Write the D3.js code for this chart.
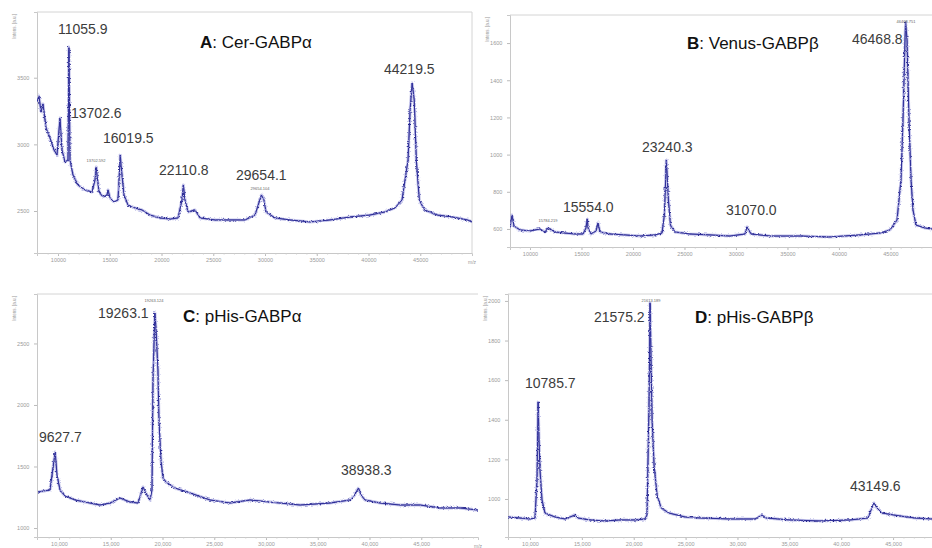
<!DOCTYPE html>
<html>
<head>
<meta charset="utf-8">
<script src="https://cdn.jsdelivr.net/npm/d3@7/dist/d3.min.js"></script>
<style>
  body { margin: 0; background: #fff; }
  svg { display: block; }
  text { font-family: "Liberation Sans", Arial, sans-serif; }
</style>
</head>
<body>
<svg id="chart" width="932" height="548"></svg>
<script>
// ---- spectra, [m/z, intensity] ----
const specA = [[7971,3318],[8164,3363],[8357,3243],[8551,3303],[8841,3123],[9227,3048],[9614,2958],[9903,2920],
  [10193,3198],[10386,2958],[10676,2868],[10966,2883],[11056,3730],[11159,2883],[11449,2770],[11932,2695],
  [12609,2658],[13285,2643],[13575,2733],[13703,2830],[13768,2770],[13961,2643],[14348,2605],[14734,2620],
  [14831,2658],[15024,2598],[15411,2568],[15797,2583],[16020,2920],[16087,2845],[16377,2620],[16763,2545],
  [17440,2523],[18116,2508],[18889,2470],[19855,2448],[20821,2440],[21594,2448],[21981,2583],[22111,2695],
  [22271,2583],[22561,2493],[23237,2508],[23720,2448],[25169,2433],[26619,2433],[28068,2433],[29034,2470],
  [29654,2620],[29900,2583],[30097,2493],[30967,2448],[32416,2433],[34348,2418],[36281,2433],[38213,2455],
  [40145,2470],[41595,2493],[42561,2523],[43237,2583],[43820,2883],[44020,3258],[44219,3460],[44420,3333],
  [44620,2883],[44910,2583],[45400,2508],[46650,2470],[48100,2455],[49560,2433],[50000,2418]];

const specB = [[8058,605],[8252,675],[8446,616],[9029,595],[10000,589],[10971,600],[11457,584],[11748,605],
  [12428,584],[13399,578],[14370,573],[15146,573],[15438,605],[15554,654],[15640,605],[15923,573],
  [16409,589],[16603,632],[16797,584],[17768,573],[19225,568],[20681,562],[22138,568],[22817,578],
  [23050,675],[23240,971],[23440,756],[23640,621],[24080,584],[25536,573],[27478,568],[29420,562],
  [30877,573],[31070,611],[31460,573],[33304,562],[36217,562],[39130,557],[42043,568],[43985,578],
  [44956,595],[45636,648],[46024,864],[46218,1186],[46413,1617],[46469,1714],[46610,1617],[46800,1186],
  [47000,864],[47190,702],[47480,621],[48355,605],[49034,600]];

const specC = [[7971,1293],[9130,1309],[9628,1618],[9807,1431],[10097,1309],[10580,1260],[11546,1228],
  [12995,1203],[13961,1187],[14928,1203],[15894,1244],[16860,1211],[17633,1203],[18116,1333],[18502,1268],
  [18792,1228],[18986,1309],[19082,2203],[19263,2748],[19380,2610],[19470,2447],[19560,2285],[19660,1878],
  [19850,1553],[20050,1406],[20340,1374],[21208,1325],[22657,1285],[24590,1228],[26522,1203],[28454,1228],
  [30387,1211],[33285,1187],[36184,1203],[38116,1228],[38503,1260],[38938,1325],[39180,1268],[39566,1228],
  [41015,1203],[42947,1187],[44879,1187],[46812,1163],[48744,1163],[50484,1146]];

const specD = [[7879,909],[9036,904],[10000,899],[10482,904],[10675,1096],[10786,1490],[10868,1298],
  [10964,1146],[11157,995],[11446,929],[12410,909],[13374,899],[14338,919],[14627,904],[15784,894],
  [17230,889],[18676,894],[20122,894],[21086,899],[21280,919],[21480,1500],[21575,1990],[21670,1702],
  [21770,1399],[21960,1172],[22250,1020],[22640,955],[23400,929],[24942,909],[26388,904],[29280,899],
  [31690,899],[32365,919],[32750,904],[35064,894],[37956,889],[40848,894],[42583,904],[42873,944],
  [43150,980],[43450,955],[43933,929],[45668,914],[47114,904],[48753,899]];

// ---- axis ticks ----
const xTicks = [10000, 15000, 20000, 25000, 30000, 35000, 40000, 45000];
const yTicksA = [2500, 3000, 3500];
const yTicksB = [600, 800, 1000, 1200, 1400, 1600];
const yTicksC = [1000, 1500, 2000, 2500];
const yTicksD = [1000, 1200, 1400, 1600, 1800, 2000];

// ---- titles and peak labels ----
const titles = [["A", ": Cer-GABPα"], ["B", ": Venus-GABPβ"], ["C", ": pHis-GABPα"], ["D", ": pHis-GABPβ"]];
const peaksA = ["11055.9", "13702.6", "16019.5", "22110.8", "29654.1", "44219.5"];
const peaksB = ["23240.3", "15554.0", "31070.0", "46468.8"];
const peaksC = ["9627.7", "19263.1", "38938.3"];
const peaksD = ["10785.7", "21575.2", "43149.6"];
const smallA = ["13702.592", "29654.104"];
const smallB = ["15784.219", "46468.751"];
const smallC = ["19263.124"];
const smallD = ["21613.189"];

// ---- layout (pixels) ----
const panels = [
  { spec: specA, yTicks: yTicksA, title: titles[0], peaks: peaksA, small: smallA, comma: false,
    box: { l: 37, t: 12, r: 472, b: 253 }, xDom: [7971, 50000], yDom: [2185, 3993], rightEdge: true,
    titlePos: [200, 48],
    peakPos: [[58, 34], [71, 118], [103, 143], [159, 175], [236, 180], [384, 74]],
    smallPos: [[96, 162], [260, 190]] },
  { spec: specB, yTicks: yTicksB, title: titles[1], peaks: peaksB, small: smallB, comma: false,
    box: { l: 510, t: 15, r: 932, b: 247 }, xDom: [8058, 49034], yDom: [503, 1751], rightEdge: false,
    titlePos: [687, 49],
    peakPos: [[642, 152], [563, 212], [726, 215], [852, 44]],
    smallPos: [[548, 222], [906, 23]] },
  { spec: specC, yTicks: yTicksC, title: titles[2], peaks: peaksC, small: smallC, comma: true,
    box: { l: 37, t: 294, r: 478, b: 537 }, xDom: [7874, 50484], yDom: [927, 2902], rightEdge: false,
    titlePos: [183, 322],
    peakPos: [[39, 442], [98, 318], [341, 475]],
    smallPos: [[154, 302]] },
  { spec: specD, yTicks: yTicksD, title: titles[3], peaks: peaksD, small: smallD, comma: true,
    box: { l: 508, t: 294, r: 932, b: 537 }, xDom: [7879, 48753], yDom: [808, 2035], rightEdge: false,
    titlePos: [695, 323],
    peakPos: [[525, 388], [594, 322], [850, 491]],
    smallPos: [[651, 302]] }
];

const svg = d3.select("#chart");
const defs = svg.append("defs");

// grainy texture for the trace, a pure styling effect
const filt = defs.append("filter").attr("id", "grain")
  .attr("filterUnits", "userSpaceOnUse")
  .attr("x", 0).attr("y", 0).attr("width", 932).attr("height", 548);
filt.append("feTurbulence").attr("type", "fractalNoise")
  .attr("baseFrequency", "0.6 1.2").attr("numOctaves", 1).attr("seed", 4).attr("result", "t");
filt.append("feDisplacementMap").attr("in", "SourceGraphic").attr("in2", "t")
  .attr("scale", 3.4).attr("xChannelSelector", "A").attr("yChannelSelector", "G");

const fmt = d3.format(",");

panels.forEach((p, i) => {
  const { l, t, r, b } = p.box;
  const x = d3.scaleLinear().domain(p.xDom).range([l, r]);
  const y = d3.scaleLinear().domain(p.yDom).range([b, t]);
  const g = svg.append("g");

  defs.append("clipPath").attr("id", "clip" + i)
    .append("rect").attr("x", l).attr("y", t - 2).attr("width", r - l).attr("height", b - t + 2);

  // frame
  g.append("line").attr("x1", l).attr("x2", r).attr("y1", t).attr("y2", t)
    .attr("stroke", "#d4d4d4");
  if (p.rightEdge) {
    g.append("line").attr("x1", r).attr("x2", r).attr("y1", t).attr("y2", b)
      .attr("stroke", "#d4d4d4");
  }

  // x axis
  const xa = g.append("g").attr("transform", `translate(0,${b})`)
    .call(d3.axisBottom(x).tickValues(xTicks).tickSize(3)
      .tickFormat(d => p.comma ? fmt(d) : d));
  xa.select(".domain").attr("stroke", "#c8c8c8");
  xa.selectAll(".tick line").attr("stroke", "#bbb");
  xa.selectAll("text").attr("fill", "#9a9a9a").attr("font-size", 5.5).attr("dy", "0.5em");
  g.append("g").attr("transform", `translate(0,${b})`)
    .call(d3.axisBottom(x).tickValues(d3.range(9000, p.xDom[1], 1000)).tickSize(1.5).tickFormat(""))
    .call(s => s.select(".domain").remove())
    .selectAll("line").attr("stroke", "#ccc");
  if (i === 0 || i === 2) {
    g.append("text").attr("x", r - 4).attr("y", b + 11).attr("font-size", 5)
      .attr("fill", "#999").text("m/z");
  }

  // y axis
  const ya = g.append("g").attr("transform", `translate(${l},0)`)
    .call(d3.axisLeft(y).tickValues(p.yTicks).tickSize(3).tickFormat(d3.format("d")));
  ya.select(".domain").attr("stroke", "#c8c8c8");
  ya.selectAll(".tick line").attr("stroke", "#bbb");
  ya.selectAll("text").attr("fill", "#9a9a9a").attr("font-size", 5.5).attr("dx", "-0.3em");
  g.append("text").attr("transform", `translate(${l - 21},${t + 2}) rotate(-90)`)
    .attr("text-anchor", "end").attr("font-size", 4.5).attr("fill", "#999")
    .text("Intens. [a.u.]");

  // trace
  const line = d3.line().x(d => x(d[0])).y(d => y(d[1]));
  const tr = g.append("g").attr("clip-path", `url(#clip${i})`);
  tr.append("path").datum(p.spec).attr("d", line)
    .attr("fill", "none").attr("stroke", "#8a8ad6").attr("stroke-width", 3)
    .attr("stroke-opacity", 0.5).attr("stroke-linejoin", "round").attr("filter", "url(#grain)");
  tr.append("path").datum(p.spec).attr("d", line)
    .attr("fill", "none").attr("stroke", "#22228a").attr("stroke-width", 1)
    .attr("stroke-linejoin", "round").attr("filter", "url(#grain)");
  tr.append("path").datum(p.spec).attr("d", line)
    .attr("fill", "none").attr("stroke", "#3a3aa6").attr("stroke-width", 0.5)
    .attr("stroke-linejoin", "round");

  // title
  const tt = g.append("text").attr("x", p.titlePos[0]).attr("y", p.titlePos[1])
    .attr("font-size", 17).attr("fill", "#111");
  tt.append("tspan").attr("font-weight", "bold").text(p.title[0]);
  tt.append("tspan").text(p.title[1]);

  // peak labels
  g.selectAll(".pk").data(p.peaks).join("text")
    .attr("x", (d, k) => p.peakPos[k][0]).attr("y", (d, k) => p.peakPos[k][1])
    .attr("font-size", 14).attr("fill", "#3c3c3c").text(d => d);
  g.selectAll(".sm").data(p.small).join("text")
    .attr("x", (d, k) => p.smallPos[k][0]).attr("y", (d, k) => p.smallPos[k][1])
    .attr("text-anchor", "middle").attr("font-size", 4).attr("fill", "#666").text(d => d);
});
</script>
</body>
</html>
